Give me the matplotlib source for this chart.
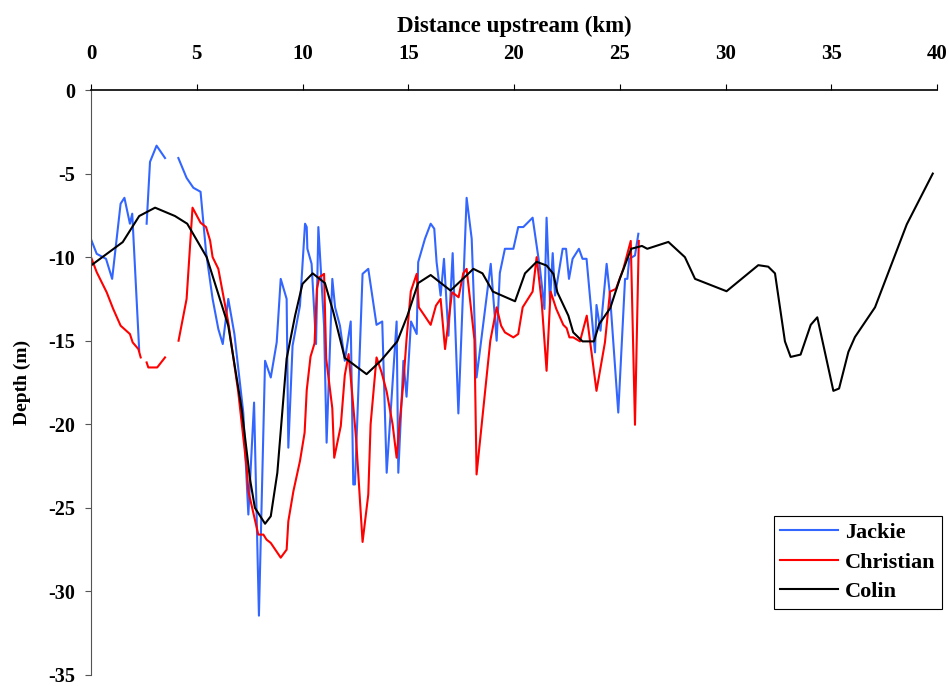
import numpy as np
import matplotlib.pyplot as plt

nan = np.nan

# Jackie survey (km upstream, depth m)
jackie_x = [0, 0.27, 0.71, 1.0, 1.4, 1.58, 1.84, 1.95, 2.28, nan, 2.63, 2.79, 3.1, 3.5, nan,
            4.13, 4.52, 4.84, 5.18, 5.44, 5.75, 6.02, 6.23, 6.49, 6.78, 7.2, 7.44, 7.71, 7.94,
            8.23, 8.5, 8.78, 8.97, 9.25, 9.33, 9.53, 9.88, 10.12, 10.2, 10.23, 10.43, 10.64,
            10.75, 11.02, 11.14, 11.41, 11.54, 11.77, 12.0, 12.28, 12.4, 12.48, 12.84, 13.11,
            13.5, 13.77, 13.98, 14.45, 14.53, 14.77, 14.92, 15.13, 15.4, 15.47, 15.79, 16.06,
            16.23, 16.34, 16.53, 16.69, 16.9, 17.1, 17.37, 17.76, 18.0, 18.23, 18.9, 19.18,
            19.33, 19.57, 19.97, 20.2, 20.44, 20.88, 21.23, 21.44, 21.54, 21.7, 21.83, 21.94,
            22.3, 22.46, 22.6, 22.77, 23.07, 23.24, 23.43, 23.83, 23.9, 24.09, 24.38, 24.54,
            24.93, 25.25, 25.36, 25.45, 25.72, 25.88]
jackie_d = [-8.93, -9.8, -10.1, -11.3, -6.8, -6.45, -8.0, -7.4, -15.6, nan, -8.0, -4.3, -3.33, -4.07, nan,
            -4.07, -5.26, -5.85, -6.09, -9.7, -12.5, -14.3, -15.2, -12.5, -14.6, -19.3, -25.4, -18.7, -31.45,
            -16.2, -17.2, -15.1, -11.3, -12.5, -21.4, -15.3, -12.9, -8.0, -8.2, -9.5, -10.4, -15.2,
            -8.2, -14.1, -21.1, -11.3, -13.0, -14.1, -16.2, -13.85, -23.6, -23.6, -11.0, -10.7,
            -14.05, -13.85, -22.9, -13.85, -22.9, -16.2, -18.35, -13.85, -14.6, -10.3, -8.9, -8.0,
            -8.3, -10.3, -12.3, -10.1, -14.7, -9.76, -19.35, -6.45, -8.9, -17.2, -10.4, -15.0,
            -10.95, -9.5, -9.5, -8.2, -8.2, -7.64, -10.7, -13.1, -7.64, -12.7, -9.76, -12.3,
            -9.5, -9.5, -11.3, -10.1, -9.5, -10.1, -10.1, -15.7, -12.86, -14.4, -10.4, -12.3,
            -19.3, -11.3, -11.3, -10.1, -9.9, -8.6]

# Christian survey
christian_x = [0, 0.27, 0.74, 1.05, 1.4, 1.84, 1.97, 2.24, 2.35, nan, 2.63, 2.71, 3.13, 3.5, nan,
               4.14, 4.52, 4.8, 5.18, 5.44, 5.63, 5.75, 6.02, 6.49, 6.96, 7.36, 7.44, 7.91, 8.15,
               8.3, 8.5, 8.97, 9.25, 9.33, 9.57, 9.88, 10.1, 10.2, 10.38, 10.57, 10.68, 10.8,
               11.02, 11.12, 11.41, 11.5, 11.81, 12.0, 12.18, 12.34, 12.53, 12.84, 13.11, 13.22,
               13.5, 13.74, 13.98, 14.26, 14.45, 14.6, 14.77, 14.92, 15.12, 15.4, 15.5, 15.77,
               16.06, 16.31, 16.53, 16.74, 17.07, 17.38, 17.6, 17.76, 18.13, 18.23, 18.88, 19.18,
               19.39, 19.57, 19.97, 20.2, 20.41, 20.88, 21.07, 21.31, 21.54, 21.73, 22.0, 22.33,
               22.49, 22.62, 22.8, 23.12, 23.44, 23.9, 24.3, 24.54, 24.82, 25.17, 25.52, 25.72, 25.9]
christian_d = [-10.0, -10.9, -12.1, -13.1, -14.1, -14.6, -15.1, -15.5, -16.0, nan, -16.3, -16.6, -16.6, -16.0, nan,
               -15.0, -12.5, -7.04, -7.94, -8.2, -9.0, -10.0, -10.7, -13.9, -18.05, -22.6, -24.0, -26.6, -26.6,
               -26.9, -27.1, -27.98, -27.5, -25.8, -24.0, -22.2, -20.5, -17.96, -15.95, -15.15, -11.9, -11.2,
               -11.0, -16.07, -19.05, -22.0, -20.1, -17.06, -15.8, -18.05, -20.8, -27.04, -24.2, -20.0,
               -16.0, -16.9, -18.05, -20.0, -22.0, -19.8, -17.5, -14.9, -12.05, -11.0, -13.0, -13.5,
               -14.05, -12.9, -12.5, -15.5, -12.1, -12.4, -10.97, -10.7, -14.95, -23.0, -15.0, -13.0,
               -14.1, -14.5, -14.8, -14.6, -13.0, -12.06, -10.0, -12.7, -16.8, -12.06, -13.1, -14.05,
               -14.25, -14.8, -14.8, -15.04, -13.5, -18.0, -15.1, -12.06, -11.9, -10.7, -9.03, -20.03, -9.03]

# Colin survey
colin_x = [0, 1.5, 2.28, 3.03, 3.97, 4.55, 5.47, 6.49, 7.12, 7.52, 7.75, 8.23, 8.5, 8.81, 9.25,
           9.65, 10.0, 10.48, 11.06, 11.46, 12.0, 13.03, 13.7, 14.48, 14.96, 15.47, 16.06, 17.0,
           18.08, 18.51, 19.0, 20.05, 20.52, 21.07, 21.54, 21.86, 22.05, 22.57, 22.8, 23.24, 23.78,
           24.03, 24.55, 25.0, 25.54, 26.05, 26.3, 27.3, 28.08, 28.56, 30.05, 31.55, 32.02, 32.34,
           32.81, 33.08, 33.55, 34.03, 34.34, 35.1, 35.37, 35.81, 36.12, 37.07, 38.57, 39.8]
colin_d = [-10.5, -9.1, -7.54, -7.04, -7.54, -8.0, -10.0, -14.1, -19.05, -23.3, -25.0, -25.95, -25.5, -22.9, -16.07,
           -13.5, -11.6, -10.97, -11.55, -13.3, -16.03, -17.0, -16.2, -15.04, -13.5, -11.55, -11.07, -12.0,
           -10.7, -10.97, -12.06, -12.64, -10.97, -10.28, -10.5, -11.0, -12.1, -13.5, -14.5, -15.04, -15.04,
           -14.0, -13.05, -11.3, -9.5, -9.33, -9.5, -9.09, -10.0, -11.3, -12.04, -10.48, -10.57, -10.97,
           -15.04, -15.97, -15.83, -14.05, -13.6, -18.0, -17.86, -15.67, -14.78, -13.0, -8.04, -5.0]

plt.rcParams['font.family'] = 'Liberation Serif'
plt.rcParams['font.weight'] = 'bold'
plt.rcParams['axes.unicode_minus'] = False

fig = plt.figure(figsize=(9.49, 6.86), dpi=100)
ax = fig.add_axes([91 / 949, 11 / 686, 846 / 949, 585 / 686])

ax.plot(jackie_x, jackie_d, color='#3366ff', lw=1.5, label='Jackie')
ax.plot(christian_x, christian_d, color='#ff0000', lw=1.5, label='Christian')
ax.plot(colin_x, colin_d, color='black', lw=1.5, label='Colin')

ax.set_xlim(0, 40)
ax.set_ylim(-35, 0)
ax.set_xticks(np.arange(0, 41, 5))
ax.set_yticks(np.arange(-35, 1, 5))
ax.xaxis.tick_top()
ax.xaxis.set_label_position('top')
ax.tick_params(axis='x', direction='out', length=4.5, width=0.8, pad=14, labelsize=15)
ax.tick_params(axis='y', direction='out', length=4.5, width=0.8, pad=7, labelsize=14.5, color='#555555')

ax.spines['right'].set_visible(False)
ax.spines['bottom'].set_visible(False)
ax.spines['left'].set_color('#555555')
ax.spines['top'].set_linewidth(1.2)

ax.set_xlabel('Distance upstream (km)', fontsize=16.5, fontweight='bold', labelpad=9)
ax.set_ylabel('Depth (m)', fontsize=14, fontweight='bold', labelpad=12)

leg = ax.legend(loc='upper left', bbox_to_anchor=(0.807, 0.272), borderaxespad=0,
                fancybox=False, framealpha=1, edgecolor='black', fontsize=16,
                handlelength=2.6, handletextpad=0.3, labelspacing=0.4, borderpad=0.3)
leg.get_frame().set_linewidth(0.8)

fig.savefig('out.png', dpi=100)
